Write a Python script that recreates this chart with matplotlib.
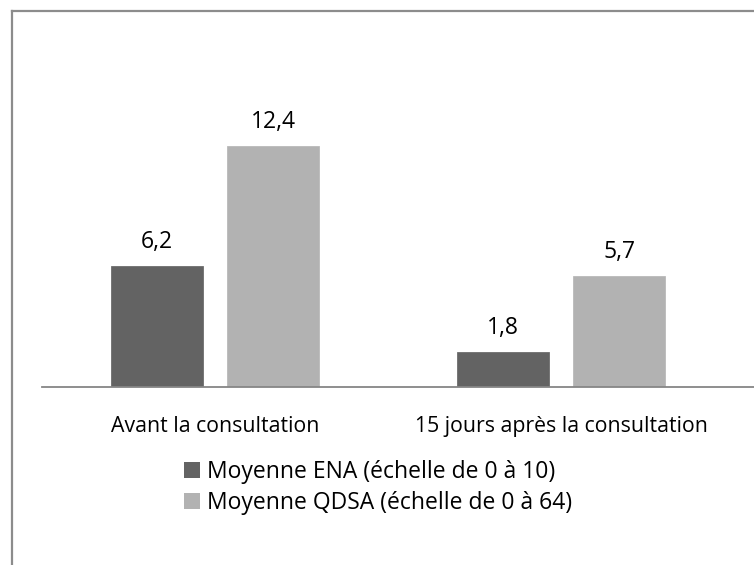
import matplotlib
matplotlib.use("Agg")
import matplotlib.pyplot as plt
import numpy as np
from matplotlib.lines import Line2D
from matplotlib.patches import Patch

categories = ["Avant la consultation", "15 jours après la consultation"]
ena_values = [6.2, 1.8]
qdsa_values = [12.4, 5.7]
series_names = ["Moyenne ENA (échelle de 0 à 10)", "Moyenne QDSA (échelle de 0 à 64)"]

DARK = "#636363"
LIGHT = "#b2b2b2"
W, H = 754, 565

plt.rcParams['font.family'] = ['Open Sans', 'DejaVu Sans']

fig = plt.figure(figsize=(W / 100, H / 100), dpi=100)
# axes: left at x=42px, right at 754px, baseline at y=387px, top at y=20px
ax = fig.add_axes([42 / W, (H - 387) / H, (W - 42) / W, (387 - 20) / H])

x = np.arange(len(categories))
bw = 0.266
off = 0.168
b1 = ax.bar(x - off, ena_values, bw, color=DARK, edgecolor="#6e6e6e", linewidth=0.6)
b2 = ax.bar(x + off, qdsa_values, bw, color=LIGHT, edgecolor="#bababa", linewidth=0.6)

for bars, vals in ((b1, ena_values), (b2, qdsa_values)):
    for rect, v in zip(bars, vals):
        ax.annotate(f"{v:.1f}".replace(".", ","),
                    (rect.get_x() + rect.get_width() / 2, v),
                    xytext=(0, 13), textcoords="offset points",
                    ha="center", va="baseline", fontsize=16.5, color="black")

ax.set_xlim(-0.5, -0.5 + (W - 42) / 346)
ax.set_ylim(0, (387 - 20) / 19.45)
ax.set_yticks([])
ax.set_xticks(x)
ax.set_xticklabels(categories, fontsize=15.3)
ax.tick_params(axis="x", length=0, pad=21)
for s in ("top", "right", "left"):
    ax.spines[s].set_visible(False)
ax.spines["bottom"].set_color("#868686")
ax.spines["bottom"].set_linewidth(1.3)

handles = [Patch(facecolor=DARK), Patch(facecolor=LIGHT)]
fig.legend(handles, series_names, loc="upper left",
           bbox_to_anchor=(184 / W, 1 - 460 / H), frameon=False,
           fontsize=16.5, handlelength=0.7, handleheight=0.7,
           handletextpad=0.3, labelspacing=0.3, borderpad=0, borderaxespad=0)

# outer chart frame (cropped at right and bottom)
fig.add_artist(Line2D([12 / W, 1], [1 - 11 / H, 1 - 11 / H], color="#8c8c8c", lw=1.6))
fig.add_artist(Line2D([12 / W, 12 / W], [0, 1 - 11 / H], color="#8c8c8c", lw=1.6))

fig.savefig("out.png", dpi=100)
